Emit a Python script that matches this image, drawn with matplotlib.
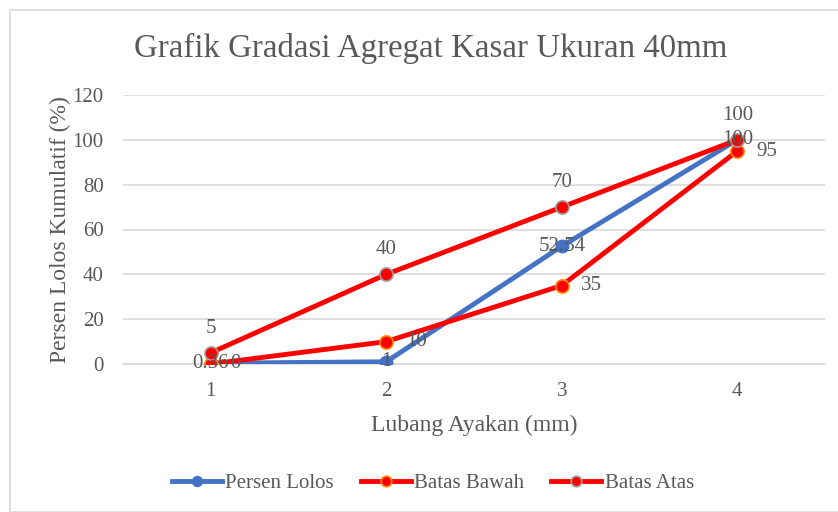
import matplotlib
matplotlib.use("Agg")
import matplotlib.pyplot as plt
from matplotlib.patches import Rectangle

plt.rcParams['font.family'] = ['Liberation Serif', 'DejaVu Serif']

x = [1, 2, 3, 4]
persen_lolos = [0.36, 1, 52.54, 100]
batas_bawah = [0, 10, 35, 95]
batas_atas = [5, 40, 70, 100]
yticks = [0, 20, 40, 60, 80, 100, 120]

grey = '#595959'
blue = '#4472C4'
red = '#FF0000'

fig = plt.figure(figsize=(8.38, 5.12), dpi=100)
fig.patches.append(Rectangle((10/838, 0), 1, 1 - 10/512, transform=fig.transFigure,
                             fill=False, edgecolor='#d9d9d9', linewidth=1.2))
ax = fig.add_axes([123/838, 1 - 364/512, (825-123)/838, (364-95)/512])

ax.plot(x, persen_lolos, color=blue, lw=3.5, marker='o', ms=9,
        mfc=blue, mec=blue, label='Persen Lolos', zorder=3)
ax.plot(x, batas_bawah, color=red, lw=3.5, marker='o', ms=9.5,
        mfc=red, mec='#FF8C00', mew=1.2, label='Batas Bawah', zorder=4)
ax.plot(x, batas_atas, color=red, lw=3.5, marker='o', ms=9.5,
        mfc=red, mec='#A0A0A0', mew=1.2, label='Batas Atas', zorder=4)

fs = 15
for xi, v in zip(x, persen_lolos):
    ax.annotate(f'{v:g}', (xi, v), ha='center', va='center', fontsize=fs, color=grey, zorder=6)
for xi, v in zip(x, batas_bawah):
    ax.annotate(f'{v:g}', (xi, v), xytext=(14, 0), textcoords='offset points',
                ha='left', va='center', fontsize=fs, color=grey, zorder=6)
for xi, v in zip(x, batas_atas):
    ax.annotate(f'{v:g}', (xi, v), xytext=(0, 11), textcoords='offset points',
                ha='center', va='bottom', fontsize=fs, color=grey, zorder=6)

ax.set_xlim(0.5, 4.5)
ax.set_ylim(0, 120)
ax.set_xticks(x)
ax.set_yticks(yticks)
ax.grid(axis='y', color='#d9d9d9', lw=1.2)
ax.set_axisbelow(True)
for s in ['top', 'right', 'left']:
    ax.spines[s].set_visible(False)
ax.spines['bottom'].set_color('#d9d9d9')
ax.spines['bottom'].set_linewidth(1.2)
ax.tick_params(axis='x', length=0, labelsize=fs, labelcolor=grey, pad=13)
ax.tick_params(axis='y', length=0, labelsize=fs, labelcolor=grey, pad=14)

ax.set_xlabel('Lubang Ayakan (mm)', fontsize=17, color=grey, labelpad=10)
ax.set_ylabel('Persen Lolos Kumulatif (%)', fontsize=17, color=grey, labelpad=1)
fig.text(431/838, 1 - 48/512, 'Grafik Gradasi Agregat Kasar Ukuran 40mm', ha='center', va='center',
         fontsize=23.7, color=grey)

fig.legend(loc='center', bbox_to_anchor=(433/838, 1 - 483/512), ncol=3, frameon=False,
           fontsize=15, labelcolor=grey, handlelength=2.4, columnspacing=1.3,
           handletextpad=0.15, markerscale=0.8)

fig.savefig('out.png', dpi=100)
